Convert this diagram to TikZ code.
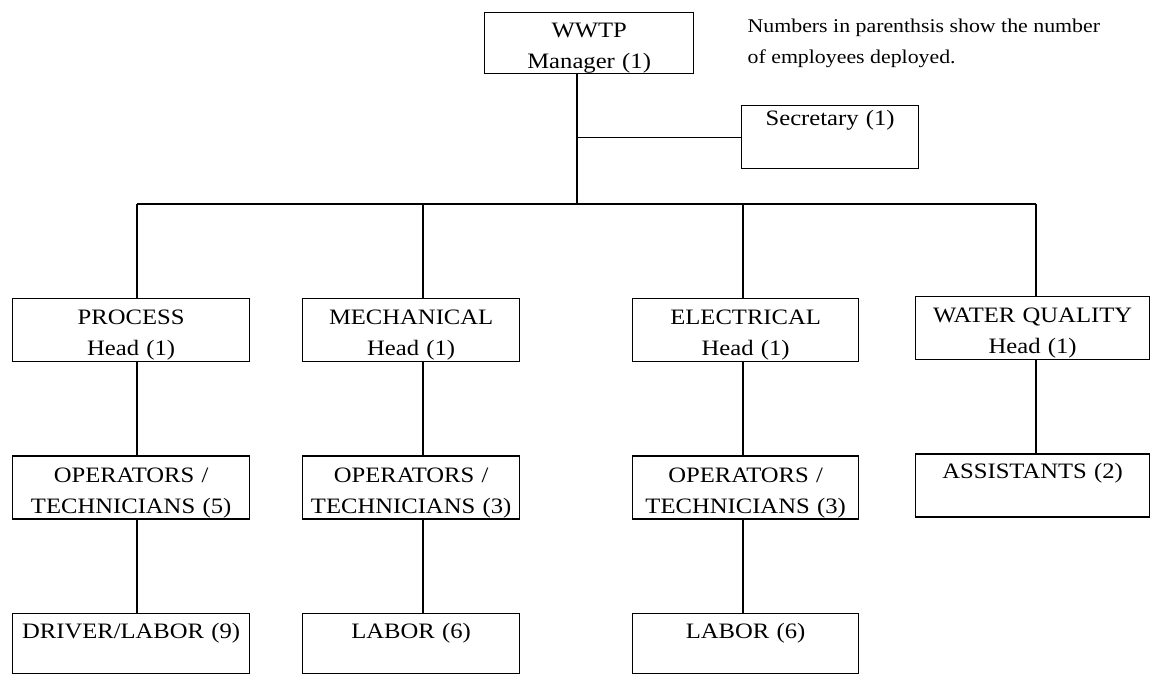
\documentclass[tikz,border=0pt]{standalone}
\usepackage{fontspec}
\setmainfont{Liberation Serif}[FakeStretch=1.12]
\usetikzlibrary{positioning}

\newcommand{\boxfont}{\fontsize{22}{31}\selectfont}
\newcommand{\notefont}{\fontsize{19.5}{31}\selectfont}

\begin{document}
\begin{tikzpicture}[
    x=1pt, y=1pt,
    line width=1.3pt,
    node distance=93pt,
    unit/.style={rectangle, draw, line width=1.3pt, inner sep=0pt, align=center, font=\boxfont,
        minimum height=63pt, execute at begin node={\rule{0pt}{25pt}}},
    oneline/.style={text height=25pt, text depth=38pt},
    colproc/.style={minimum width=237pt, text width=237pt},
    colmech/.style={minimum width=217pt, text width=217pt},
    colelec/.style={minimum width=226pt, text width=226pt},
    colwq/.style={minimum width=234pt, text width=234pt},
    lowrow/.style={minimum height=60pt, text height=25pt, text depth=35pt}
]
\useasboundingbox (0,0) rectangle (1154,-675);

% Nodes
\node[unit, anchor=north west, minimum width=209pt, text width=209pt, minimum height=60pt] (mgr) at (484,-12) {WWTP\\Manager (1)};
\node[unit, oneline, anchor=north west, minimum width=177pt, text width=177pt, text height=20pt, text depth=43pt] (sec) at (741,-105) {Secretary (1)};
\node[anchor=north west, align=left, inner sep=0pt, font=\notefont] (note) at (747,-18) {Numbers in parenthsis show the number\\of employees deployed.};

\node[unit, colproc, anchor=north west] (proc) at (12,-298) {PROCESS\\Head (1)};
\node[unit, colmech, anchor=north west] (mech) at (302,-298) {MECHANICAL\\Head (1)};
\node[unit, colelec, anchor=north west] (elec) at (632,-298) {ELECTRICAL\\Head (1)};
\node[unit, colwq, anchor=north west] (wq) at (915,-296) {WATER QUALITY\\Head (1)};

\node[unit, colproc, below=of proc] (procops) {OPERATORS /\\TECHNICIANS (5)};
\node[unit, colmech, below=of mech] (mechops) {OPERATORS /\\TECHNICIANS (3)};
\node[unit, colelec, below=of elec] (elecops) {OPERATORS /\\TECHNICIANS (3)};
\node[unit, oneline, colwq, below=of wq] (assist) {ASSISTANTS (2)};

\node[unit, colproc, lowrow, below=of procops] (proclab) {DRIVER/LABOR (9)};
\node[unit, colmech, lowrow, below=of mechops] (mechlab) {LABOR (6)};
\node[unit, colelec, lowrow, below=of elecops] (eleclab) {LABOR (6)};

% Junctions on the bus
\coordinate (jt) at (577,-204);
\coordinate (jp) at (137,-204);
\coordinate (jm) at (423,-204);
\coordinate (je) at (743,-204);
\coordinate (jw) at (1036,-204);

% Lines
\draw (mgr.south -| jt) -- (jt);
\draw (jt |- sec.west) -- (sec.west);
\draw (jp) -- (jw);

\draw (jp) -- (jp |- proc.north);
\draw (jm) -- (jm |- mech.north);
\draw (je) -- (je |- elec.north);
\draw (jw) -- (jw |- wq.north);

\draw (jp |- proc.south) -- (jp |- procops.north);
\draw (jm |- mech.south) -- (jm |- mechops.north);
\draw (je |- elec.south) -- (je |- elecops.north);
\draw (jw |- wq.south) -- (jw |- assist.north);

\draw (jp |- procops.south) -- (jp |- proclab.north);
\draw (jm |- mechops.south) -- (jm |- mechlab.north);
\draw (je |- elecops.south) -- (je |- eleclab.north);

\end{tikzpicture}
\end{document}
